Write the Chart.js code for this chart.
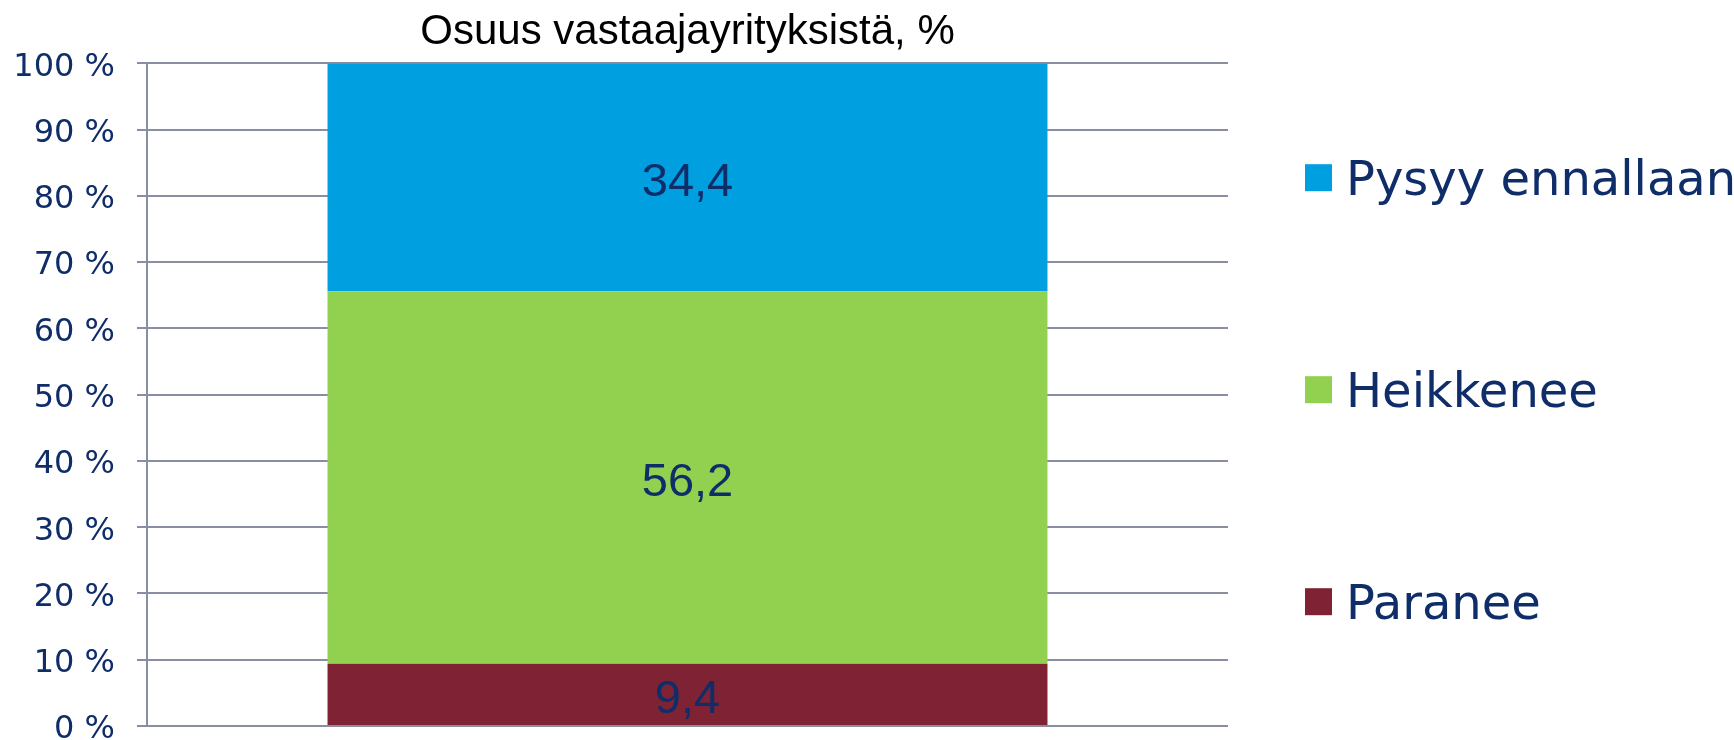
<!DOCTYPE html>
<html>
<head>
<meta charset="utf-8">
<script src="https://cdn.jsdelivr.net/npm/chart.js@4/dist/chart.umd.min.js"></script>
<style>
  html, body { margin: 0; padding: 0; background: #fff; }
  #wrap { width: 1734px; height: 740px; }
</style>
</head>
<body>
<div id="wrap"><canvas id="chart" width="1734" height="740"></canvas></div>
<script>
// chart data
const categories = [''];
const seriesNames = ['Paranee', 'Heikkenee', 'Pysyy ennallaan'];
const paranee = [9.4];
const heikkenee = [56.2];
const pysyy = [34.4];
const seriesColors = ['#7f2334', '#92d050', '#00a0e0'];
const yTicks = [0, 10, 20, 30, 40, 50, 60, 70, 80, 90, 100];

const navy = '#0f2d69';
const gridGray = '#8a8ea2';

// values in the middle of each bar segment
const segmentLabels = {
    id: 'segmentLabels',
    afterDatasetsDraw(chart) {
        const ctx = chart.ctx;
        ctx.save();
        ctx.font = '47px "Liberation Sans", Arial, sans-serif';
        ctx.fillStyle = navy;
        ctx.textAlign = 'center';
        ctx.textBaseline = 'middle';
        chart.data.datasets.forEach((ds, i) => {
            chart.getDatasetMeta(i).data.forEach((bar, j) => {
                const v = ds.data[j];
                const y = (bar.y + bar.base) / 2;
                ctx.fillText(v.toFixed(1).replace('.', ','), bar.x, y + 6);
            });
        });
        ctx.restore();
    }
};

// legend on the right, top item = top segment
const sideLegend = {
    id: 'sideLegend',
    afterDraw(chart) {
        const ctx = chart.ctx;
        const area = chart.chartArea;
        const mid = (area.top + area.bottom) / 2 - 5;
        const gap = 212;
        const n = chart.data.datasets.length;
        ctx.save();
        ctx.font = '48px "DejaVu Sans", Verdana, sans-serif';
        ctx.textBaseline = 'middle';
        ctx.textAlign = 'left';
        chart.data.datasets.forEach((ds, i) => {
            const row = n - 1 - i;
            const cy = mid + (row - (n - 1) / 2) * gap;
            ctx.fillStyle = ds.backgroundColor;
            ctx.fillRect(1305, cy - 13.5, 27, 27);
            ctx.fillStyle = navy;
            ctx.fillText(ds.label, 1346, cy + 5);
        });
        ctx.restore();
    }
};

const chart = new Chart(document.getElementById('chart'), {
    type: 'bar',
    data: {
        labels: categories,
        datasets: [
            { label: seriesNames[0], data: paranee, backgroundColor: seriesColors[0] },
            { label: seriesNames[1], data: heikkenee, backgroundColor: seriesColors[1] },
            { label: seriesNames[2], data: pysyy, backgroundColor: seriesColors[2] }
        ]
    },
    options: {
        responsive: false,
        animation: false,
        layout: {
            autoPadding: false,
            padding: { left: 0, right: 506, top: 0, bottom: 14 }
        },
        datasets: {
            bar: { categoryPercentage: 1, barPercentage: 0.666, borderWidth: 0 }
        },
        plugins: {
            legend: { display: false },
            tooltip: { enabled: false },
            title: {
                display: true,
                fullSize: false,
                text: 'Osuus vastaajayrityksistä, %',
                color: '#000',
                font: { family: '"Liberation Sans", Arial, sans-serif', size: 42, weight: 'normal' },
                padding: { top: 7, bottom: 6 }
            }
        },
        scales: {
            x: {
                stacked: true,
                display: false
            },
            y: {
                stacked: true,
                min: 0,
                max: 100,
                afterFit(scale) {
                    scale.width = 147;
                    scale.paddingTop = 0;
                    scale.paddingBottom = 0;
                },
                afterBuildTicks(scale) { scale.ticks = yTicks.map(v => ({ value: v })); },
                ticks: {
                    padding: 22,
                    labelOffset: 4,
                    color: navy,
                    font: { family: '"DejaVu Sans", Verdana, sans-serif', size: 32 },
                    callback: v => v + ' %'
                },
                grid: { color: gridGray, lineWidth: 2, tickLength: 10 },
                border: { color: gridGray, width: 2 }
            }
        }
    },
    plugins: [segmentLabels, sideLegend]
});
</script>
</body>
</html>
